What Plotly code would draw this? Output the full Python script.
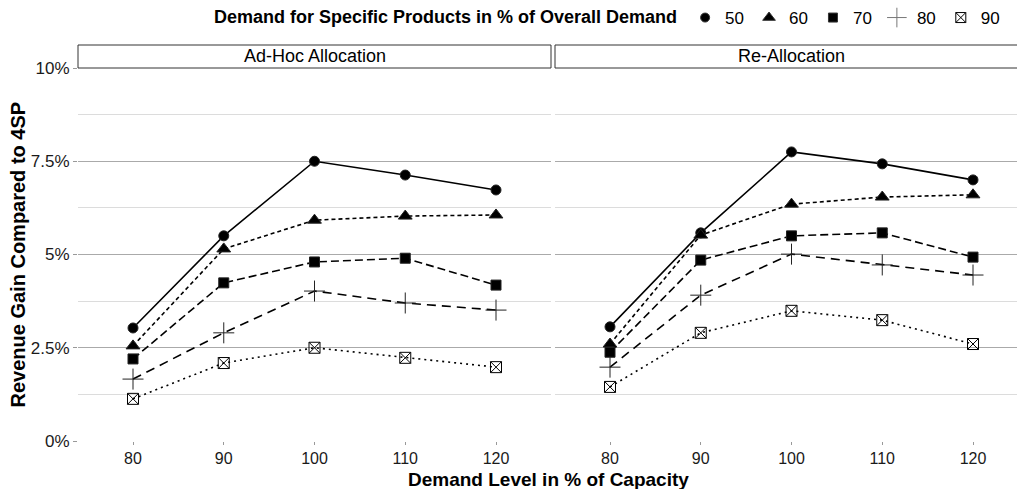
import plotly.graph_objects as go

# ---- data ----
demand_levels = [80, 90, 100, 110, 120]
share_labels = ["50", "60", "70", "80", "90"]
panel_titles = ["Ad-Hoc Allocation", "Re-Allocation"]

adhoc_50 = [3.03, 5.50, 7.50, 7.13, 6.73]
adhoc_60 = [2.55, 5.15, 5.92, 6.03, 6.06]
adhoc_70 = [2.20, 4.24, 4.80, 4.90, 4.18]
adhoc_80 = [1.66, 2.90, 4.02, 3.70, 3.51]
adhoc_90 = [1.13, 2.09, 2.50, 2.23, 1.98]

realloc_50 = [3.06, 5.58, 7.75, 7.43, 7.00]
realloc_60 = [2.60, 5.52, 6.35, 6.54, 6.60]
realloc_70 = [2.38, 4.85, 5.50, 5.58, 4.93]
realloc_80 = [1.98, 3.91, 5.01, 4.72, 4.45]
realloc_90 = [1.45, 2.90, 3.49, 3.24, 2.60]

y_tickvals = [0, 2.5, 5, 7.5, 10]
y_ticktext = ["0%", "2.5%", "5%", "7.5%", "10%"]

# ---- styles ----
FONT = "Liberation Sans, Arial"
symbols = ["circle", "triangle-up", "square", "cross-thin", "square-x-open"]
sizes = [10, 12, 10, 15, 11]
dashes = ["solid", "4px,3px", "8px,4px", "9px,6px", "2px,4px"]

panels = [
    [adhoc_50, adhoc_60, adhoc_70, adhoc_80, adhoc_90],
    [realloc_50, realloc_60, realloc_70, realloc_80, realloc_90],
]

fig = go.Figure()

for p, series_list in enumerate(panels):
    xa = "x" if p == 0 else "x2"
    ya = "y" if p == 0 else "y2"
    for i, vals in enumerate(series_list):
        fig.add_trace(go.Scatter(
            x=demand_levels, y=vals, xaxis=xa, yaxis=ya,
            mode="lines+markers",
            line=dict(color="black", width=1.6, dash=dashes[i]),
            marker=dict(symbol=symbols[i], size=sizes[i], color="black",
                        line=dict(color="#222222", width=1)),
            showlegend=False, hoverinfo="skip",
        ))

# legend-only marker traces
for i, lab in enumerate(share_labels):
    fig.add_trace(go.Scatter(
        x=[None], y=[None], mode="markers", name=lab,
        marker=dict(symbol=symbols[i], size=sizes[i] - 1, color="black",
                    line=dict(color="#333333" if i < 3 else "#777777", width=1)),
        showlegend=True,
    ))

L, R, T, B = 78, 0, 45, 48
W, H = 1017, 489
pw = W - L - R
ph = H - T - B
left_end = (551 - L) / pw
right_start = (555 - L) / pw
ydom_top = (441 - 68) / ph

axis_common = dict(
    tickvals=demand_levels, ticks="outside", ticklen=3, tickcolor="#999999",
    showgrid=False, zeroline=False, showline=False,
    tickfont=dict(family=FONT, size=16, color="#1a1a1a"),
)
px_per_unit = (496 - 133) / 40.0
fig.update_layout(
    xaxis=dict(domain=[0, left_end],
               range=[80 - (133 - 78) / px_per_unit, 120 + (551 - 496) / px_per_unit],
               **axis_common),
    xaxis2=dict(domain=[right_start, 1],
                range=[80 - (610 - 555) / px_per_unit, 120 + (1017 - 973) / px_per_unit],
                **axis_common),
    yaxis=dict(domain=[0, ydom_top], range=[0, 10], tickvals=y_tickvals, ticktext=y_ticktext,
               ticks="outside", ticklen=4, tickcolor="#999999",
               showgrid=True, gridcolor="#aaaaaa", gridwidth=1, zeroline=False, showline=False,
               minor=dict(dtick=1.25, tick0=0, showgrid=True, gridcolor="#dcdcdc", gridwidth=1, ticks=""),
               tickfont=dict(family=FONT, size=17, color="#1a1a1a")),
    yaxis2=dict(domain=[0, ydom_top], range=[0, 10], matches="y", anchor="x2",
                tickvals=y_tickvals, showticklabels=False, ticks="",
                showgrid=True, gridcolor="#aaaaaa", gridwidth=1, zeroline=False, showline=False,
                minor=dict(dtick=1.25, tick0=0, showgrid=True, gridcolor="#dcdcdc", gridwidth=1, ticks="")),
    width=W, height=H,
    margin=dict(l=L, r=R, t=T, b=B, pad=0),
    plot_bgcolor="white", paper_bgcolor="white",
    font=dict(family=FONT, color="black"),
    legend=dict(
        orientation="h", x=(212 - L) / pw, xanchor="left", y=1 + (T - 18) / ph, yanchor="middle",
        title=dict(text="<b>Demand for Specific Products in % of Overall Demand</b>",
                   font=dict(size=18, family=FONT), side="left"),
        font=dict(size=17, family=FONT),
        itemwidth=30, tracegroupgap=0, bgcolor="rgba(0,0,0,0)",
    ),
)

# strips
for p, (x0, x1) in enumerate([(0, left_end), (right_start, 1.0)]):
    fig.add_shape(type="rect", xref="paper", yref="paper",
                  x0=x0, x1=x1 + (0 if p == 0 else 0.01), y0=ydom_top, y1=1.0,
                  line=dict(color="#333333", width=1), fillcolor="white", layer="above")
    fig.add_annotation(xref="paper", yref="paper",
                       x=(x0 + (x1 if p == 0 else (1028 - L) / pw)) / 2,
                       y=(ydom_top + 1) / 2, text=panel_titles[p], showarrow=False,
                       font=dict(size=18, color="black"), xanchor="center", yanchor="middle")

# axis titles
fig.add_annotation(xref="paper", yref="paper", x=(548 - L) / pw, y=-(479 - 441) / ph,
                   text="<b>Demand Level in % of Capacity</b>", showarrow=False,
                   font=dict(size=19, color="black"), xanchor="center", yanchor="middle")
fig.add_annotation(xref="paper", yref="paper", x=-(L - 18) / pw, y=ydom_top / 2,
                   text="<b>Revenue Gain Compared to 4SP</b>", showarrow=False, textangle=-90,
                   font=dict(size=20, color="black"), xanchor="center", yanchor="middle")

fig.write_html("out.html")
